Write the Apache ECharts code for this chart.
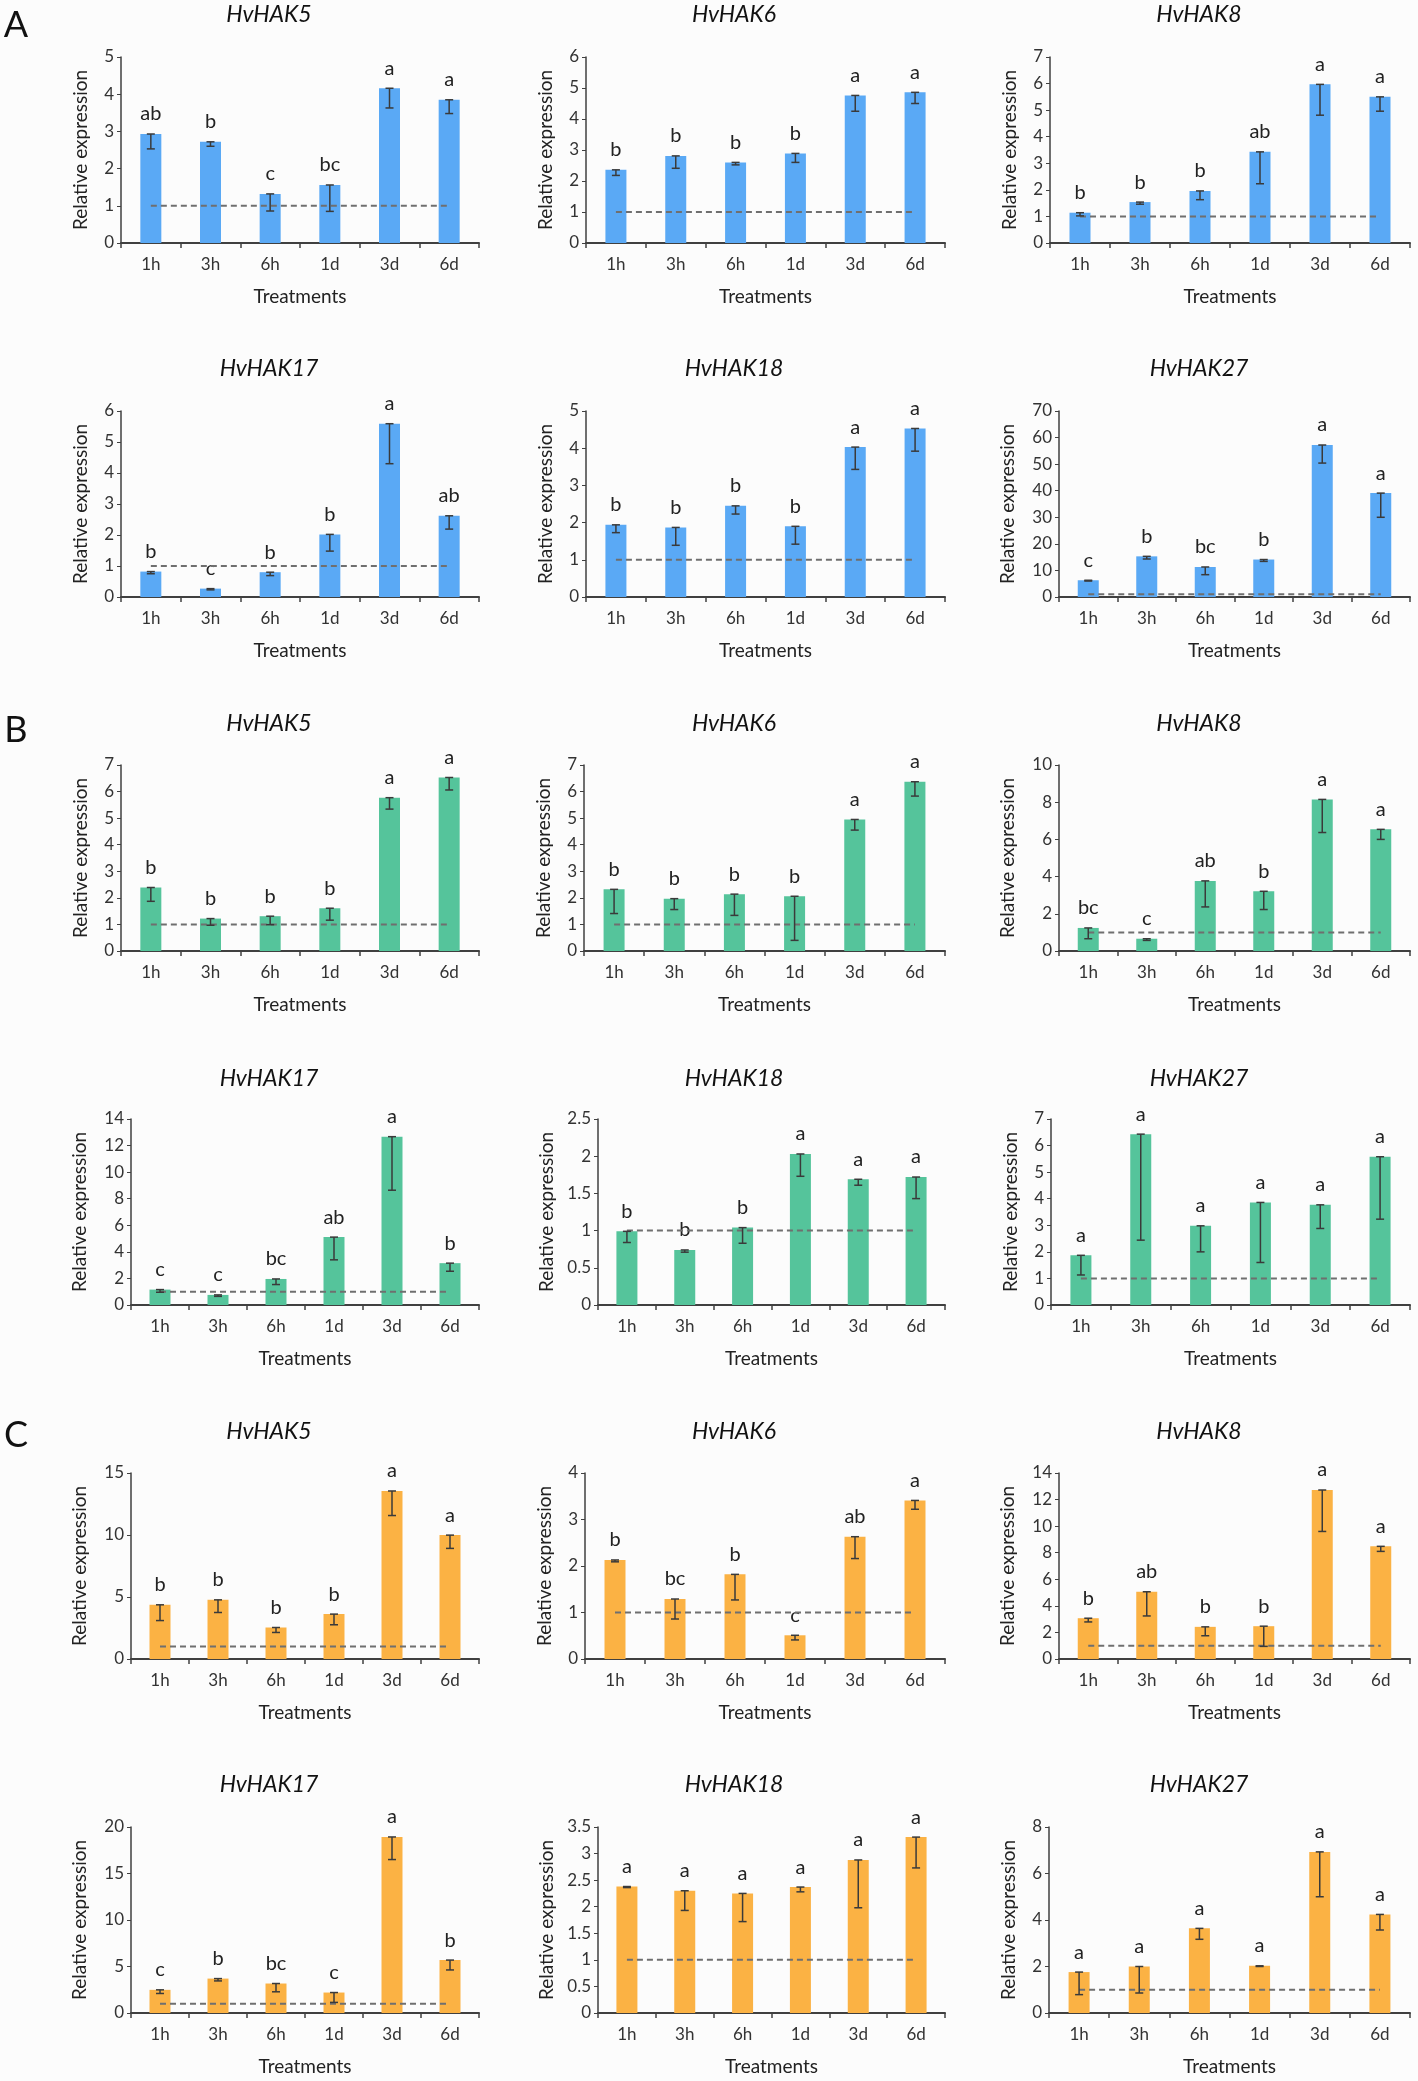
<!DOCTYPE html>
<html>
<head>
<meta charset="utf-8">
<script src="https://cdn.jsdelivr.net/npm/echarts@6/dist/echarts.min.js"></script>
<style>
html,body{margin:0;padding:0;background:#fcfcfc;}
#chart{width:1418px;height:2081px;}
</style>
</head>
<body>
<div id="chart"></div>
<script>
// ---------- DATA ----------
const categories = ['1h', '3h', '6h', '1d', '3d', '6d'];
const genes = ['HvHAK5', 'HvHAK6', 'HvHAK8', 'HvHAK17', 'HvHAK18', 'HvHAK27'];
const groups = ['A', 'B', 'C'];

// Group A
const A_HAK5_mean  = [2.93, 2.72, 1.32, 1.56, 4.16, 3.85];
const A_HAK5_err   = [0.40, 0.12, 0.46, 0.71, 0.53, 0.37];
const A_HAK5_sig   = ['ab', 'b', 'c', 'bc', 'a', 'a'];
const A_HAK6_mean  = [2.36, 2.81, 2.60, 2.89, 4.76, 4.86];
const A_HAK6_err   = [0.18, 0.40, 0.08, 0.29, 0.51, 0.36];
const A_HAK6_sig   = ['b', 'b', 'b', 'b', 'a', 'a'];
const A_HAK8_mean  = [1.14, 1.54, 1.96, 3.43, 5.97, 5.50];
const A_HAK8_err   = [0.12, 0.08, 0.33, 1.20, 1.16, 0.54];
const A_HAK8_sig   = ['b', 'b', 'b', 'ab', 'a', 'a'];
const A_HAK17_mean = [0.82, 0.27, 0.80, 2.02, 5.59, 2.62];
const A_HAK17_err  = [0.07, 0.04, 0.11, 0.54, 1.29, 0.43];
const A_HAK17_sig  = ['b', 'c', 'b', 'b', 'a', 'ab'];
const A_HAK18_mean = [1.94, 1.87, 2.45, 1.90, 4.03, 4.53];
const A_HAK18_err  = [0.21, 0.48, 0.22, 0.48, 0.60, 0.61];
const A_HAK18_sig  = ['b', 'b', 'b', 'b', 'a', 'a'];
const A_HAK27_mean = [6.3, 15.3, 11.3, 14.1, 57.2, 39.1];
const A_HAK27_err  = [0.3, 1.0, 2.9, 0.7, 6.8, 9.1];
const A_HAK27_sig  = ['c', 'b', 'bc', 'b', 'a', 'a'];

// Group B
const B_HAK5_mean  = [2.39, 1.22, 1.31, 1.61, 5.77, 6.53];
const B_HAK5_err   = [0.52, 0.25, 0.32, 0.45, 0.43, 0.47];
const B_HAK5_sig   = ['b', 'b', 'b', 'b', 'a', 'a'];
const B_HAK6_mean  = [2.32, 1.97, 2.14, 2.06, 4.95, 6.37];
const B_HAK6_err   = [0.91, 0.41, 0.80, 1.66, 0.40, 0.54];
const B_HAK6_sig   = ['b', 'b', 'b', 'b', 'a', 'a'];
const B_HAK8_mean  = [1.24, 0.66, 3.77, 3.21, 8.15, 6.54];
const B_HAK8_err   = [0.58, 0.09, 1.40, 0.98, 1.78, 0.54];
const B_HAK8_sig   = ['bc', 'c', 'ab', 'b', 'a', 'a'];
const B_HAK17_mean = [1.16, 0.76, 1.96, 5.11, 12.67, 3.15];
const B_HAK17_err  = [0.20, 0.11, 0.42, 1.71, 4.03, 0.61];
const B_HAK17_sig  = ['c', 'c', 'bc', 'ab', 'a', 'b'];
const B_HAK18_mean = [0.99, 0.74, 1.04, 2.03, 1.69, 1.72];
const B_HAK18_err  = [0.15, 0.03, 0.21, 0.30, 0.08, 0.29];
const B_HAK18_sig  = ['b', 'b', 'b', 'a', 'a', 'a'];
const B_HAK27_mean = [1.87, 6.43, 2.98, 3.86, 3.77, 5.58];
const B_HAK27_err  = [0.74, 3.99, 0.98, 2.26, 0.89, 2.35];
const B_HAK27_sig  = ['a', 'a', 'a', 'a', 'a', 'a'];

// Group C
const C_HAK5_mean  = [4.37, 4.77, 2.54, 3.62, 13.55, 9.99];
const C_HAK5_err   = [1.27, 1.02, 0.40, 0.86, 1.98, 1.07];
const C_HAK5_sig   = ['b', 'b', 'b', 'b', 'a', 'a'];
const C_HAK6_mean  = [2.13, 1.29, 1.82, 0.51, 2.63, 3.41];
const C_HAK6_err   = [0.04, 0.43, 0.55, 0.10, 0.47, 0.19];
const C_HAK6_sig   = ['b', 'bc', 'b', 'c', 'ab', 'a'];
const C_HAK8_mean  = [3.07, 5.06, 2.42, 2.47, 12.72, 8.48];
const C_HAK8_err   = [0.28, 1.82, 0.67, 1.52, 3.12, 0.38];
const C_HAK8_sig   = ['b', 'ab', 'b', 'b', 'a', 'a'];
const C_HAK17_mean = [2.49, 3.70, 3.17, 2.20, 18.93, 5.69];
const C_HAK17_err  = [0.39, 0.25, 0.89, 1.06, 2.43, 1.06];
const C_HAK17_sig  = ['c', 'b', 'bc', 'c', 'a', 'b'];
const C_HAK18_mean = [2.38, 2.30, 2.25, 2.37, 2.88, 3.31];
const C_HAK18_err  = [0.02, 0.37, 0.53, 0.09, 0.90, 0.58];
const C_HAK18_sig  = ['a', 'a', 'a', 'a', 'a', 'a'];
const C_HAK27_mean = [1.76, 2.00, 3.64, 2.03, 6.93, 4.24];
const C_HAK27_err  = [0.97, 1.14, 0.47, 0.03, 1.93, 0.67];
const C_HAK27_sig  = ['a', 'a', 'a', 'a', 'a', 'a'];

const controlLevel = [1, 1, 1, 1, 1, 1];

// y-axis ranges (max / interval) per gene, per group
const A_yMax  = [5, 6, 7, 6, 5, 70];
const A_yStep = [1, 1, 1, 1, 1, 10];
const B_yMax  = [7, 7, 10, 14, 2.5, 7];
const B_yStep = [1, 1, 2, 2, 0.5, 1];
const C_yMax  = [15, 4, 14, 20, 3.5, 8];
const C_yStep = [5, 1, 2, 5, 0.5, 2];

// ---------- LAYOUT / STYLE ----------
const FONT = 'Lato, "Open Sans", sans-serif';
const groupColors = {A: '#5aa9f5', B: '#55c49b', C: '#fbb244'};
const rowTops = [57, 411, 765, 1119, 1473, 1827];
const plotH = 186;
const colRights = [479, 945, 1410];
const panelLefts = [
  [121, 586, 1050],
  [121, 586, 1059],
  [121, 584, 1059],
  [131, 598, 1051],
  [131, 585, 1059],
  [131, 598, 1049]
];
const titleX = [269, 734, 1199];
const titleY = [15, 369, 724, 1079, 1432, 1785];
const letterY = [25, 730, 1435];

const dataSets = {
  A: [[A_HAK5_mean, A_HAK5_err, A_HAK5_sig], [A_HAK6_mean, A_HAK6_err, A_HAK6_sig], [A_HAK8_mean, A_HAK8_err, A_HAK8_sig],
      [A_HAK17_mean, A_HAK17_err, A_HAK17_sig], [A_HAK18_mean, A_HAK18_err, A_HAK18_sig], [A_HAK27_mean, A_HAK27_err, A_HAK27_sig]],
  B: [[B_HAK5_mean, B_HAK5_err, B_HAK5_sig], [B_HAK6_mean, B_HAK6_err, B_HAK6_sig], [B_HAK8_mean, B_HAK8_err, B_HAK8_sig],
      [B_HAK17_mean, B_HAK17_err, B_HAK17_sig], [B_HAK18_mean, B_HAK18_err, B_HAK18_sig], [B_HAK27_mean, B_HAK27_err, B_HAK27_sig]],
  C: [[C_HAK5_mean, C_HAK5_err, C_HAK5_sig], [C_HAK6_mean, C_HAK6_err, C_HAK6_sig], [C_HAK8_mean, C_HAK8_err, C_HAK8_sig],
      [C_HAK17_mean, C_HAK17_err, C_HAK17_sig], [C_HAK18_mean, C_HAK18_err, C_HAK18_sig], [C_HAK27_mean, C_HAK27_err, C_HAK27_sig]]
};
const yMaxes = {A: A_yMax, B: B_yMax, C: C_yMax};
const ySteps = {A: A_yStep, B: B_yStep, C: C_yStep};

const grids = [], xAxes = [], yAxes = [], series = [], graphics = [];
const axisColor = '#404040';

groups.forEach((g, gi) => {
  graphics.push({
    type: 'text', x: 16, y: letterY[gi],
    style: {text: g, font: '36px ' + FONT, fill: '#111', textAlign: 'center', textVerticalAlign: 'middle'}
  });
  for (let k = 0; k < 6; k++) {
    const row = gi * 2 + Math.floor(k / 3);
    const col = k % 3;
    const L = panelLefts[row][col];
    const R = colRights[col];
    const idx = grids.length;
    const [mean, err, sig] = dataSets[g][k];
    const ymax = yMaxes[g][k];
    const ystep = ySteps[g][k];
    const wideLabels = String(ymax).length > 1 || ystep < 1;

    grids.push({left: L, top: rowTops[row], width: R - L, height: plotH, containLabel: false});
    xAxes.push({
      type: 'category', gridIndex: idx, data: categories,
      axisLine: {lineStyle: {color: axisColor, width: 2}},
      axisTick: {show: true, length: 5, lineStyle: {color: axisColor, width: 1.5}},
      axisLabel: {fontSize: 17, color: '#333', fontFamily: FONT, margin: 13},
      name: 'Treatments', nameLocation: 'middle', nameGap: 44,
      nameTextStyle: {fontSize: 19, color: '#222', fontFamily: FONT}
    });
    yAxes.push({
      type: 'value', gridIndex: idx, min: 0, max: ymax, interval: ystep,
      axisLine: {show: true, lineStyle: {color: axisColor, width: 1.5}},
      axisTick: {show: true, length: 4, lineStyle: {color: axisColor}},
      splitLine: {show: false},
      axisLabel: {fontSize: 17, color: '#333', fontFamily: FONT, margin: 7},
      name: 'Relative expression', nameLocation: 'middle', nameGap: wideLabels ? 42 : 31,
      nameTextStyle: {fontSize: 19, color: '#222', fontFamily: FONT}
    });
    series.push({
      type: 'bar', xAxisIndex: idx, yAxisIndex: idx, data: mean, barWidth: 21,
      itemStyle: {color: groupColors[g]},
      label: {
        show: true, position: 'top', distance: 10,
        formatter: (p) => sig[p.dataIndex],
        fontSize: 20, color: '#222', fontFamily: FONT
      },
      z: 2
    });
    series.push({
      type: 'line', xAxisIndex: idx, yAxisIndex: idx, data: controlLevel,
      symbol: 'none', silent: true,
      lineStyle: {color: '#6f6f6f', width: 2, type: [6, 4]},
      z: 3
    });
    series.push({
      type: 'custom', xAxisIndex: idx, yAxisIndex: idx,
      data: mean.map((m, i) => [i, m, err[i]]),
      renderItem: (params, api) => {
        const top = api.coord([api.value(0), api.value(1)]);
        const bot = api.coord([api.value(0), api.value(1) - api.value(2)]);
        const hw = 4;
        const st = {stroke: '#3a3a3a', lineWidth: 1.5};
        return {
          type: 'group',
          children: [
            {type: 'line', shape: {x1: top[0], y1: top[1], x2: bot[0], y2: bot[1]}, style: st},
            {type: 'line', shape: {x1: top[0] - hw, y1: top[1], x2: top[0] + hw, y2: top[1]}, style: st},
            {type: 'line', shape: {x1: bot[0] - hw, y1: bot[1], x2: bot[0] + hw, y2: bot[1]}, style: st}
          ]
        };
      },
      z: 4, silent: true
    });
    graphics.push({
      type: 'text', x: titleX[col], y: titleY[row],
      style: {text: genes[k], font: 'italic 23px ' + FONT, fill: '#111', textAlign: 'center', textVerticalAlign: 'middle'}
    });
  }
});

const chart = echarts.init(document.getElementById('chart'), null, {renderer: 'canvas'});
chart.setOption({
  backgroundColor: '#fcfcfc',
  animation: false,
  grid: grids,
  xAxis: xAxes,
  yAxis: yAxes,
  series: series,
  graphic: graphics
});
</script>
</body>
</html>
